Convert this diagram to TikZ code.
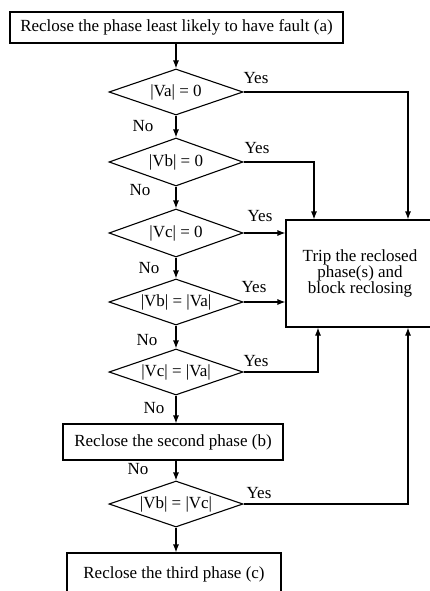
\documentclass[tikz,border=0pt]{standalone}
\usepackage{fontspec}
\setmainfont{Liberation Serif}
\usetikzlibrary{shapes.geometric,arrows.meta}
\begin{document}
\begin{tikzpicture}[x=1pt,y=-1pt,
  line width=1.1pt,
  font=\fontsize{17}{16}\selectfont,
  box/.style={draw, rectangle, inner sep=0pt, align=center},
  dia/.style={draw, diamond, shape aspect=3, inner sep=0pt, minimum width=134pt, minimum height=46pt},
  lbl/.style={inner sep=0pt},
  arr/.style={-{Latex[length=8pt,width=6pt]}}]
\useasboundingbox (0,0) rectangle (430,591);
\clip (0,0) rectangle (430,591);

\node[box, minimum width=333pt, minimum height=31pt] (top) at (176.5,27.5) {Reclose the phase least likely to have fault (a)};
\node[dia] (d1) at (176,92) {|Va| = 0};
\node[dia, minimum height=48pt] (d2) at (176,162) {|Vb| = 0};
\node[dia, minimum height=48pt] (d3) at (176,233) {|Vc| = 0};
\node[dia] (d4) at (176,302) {|Vb| = |Va|};
\node[dia] (d5) at (176,372) {|Vc| = |Va|};
\node[box, minimum width=220pt, minimum height=36pt] (box2) at (173,442) {Reclose the second phase (b)};
\node[dia] (d6) at (176,504) {|Vb| = |Vc|};
\node[box, minimum width=214pt, minimum height=42pt] (box3) at (174,574) {Reclose the third phase (c)};
\node[box, minimum width=148pt, minimum height=107pt] (trip) at (360,273.5) {Trip the reclosed\\phase(s) and\\block reclosing};

\coordinate (ra) at (408,0);
\coordinate (ma) at (314,0);
\coordinate (mb) at (318,0);

\draw[arr] (top.south -| d1.north) -- (d1.north);
\draw[arr] (d1.south) -- (d2.north);
\draw[arr] (d2.south) -- (d3.north);
\draw[arr] (d3.south) -- (d4.north);
\draw[arr] (d4.south) -- (d5.north);
\draw[arr] (d5.south) -- (d5.south |- box2.north);
\draw[arr] (box2.south -| d6.north) -- (d6.north);
\draw[arr] (d6.south) -- (d6.south |- box3.north);

\draw[arr] (d1.east) -| (ra |- trip.north);
\draw[arr] (d2.east) -| (ma |- trip.north);
\draw[arr] (d3.east) -- (d3.east -| trip.west);
\draw[arr] (d4.east) -- (d4.east -| trip.west);
\draw[arr] (d5.east) -| (mb |- trip.south);
\draw[arr] (d6.east) -| (ra |- trip.south);

\node[lbl] (y1) at (256,78) {Yes};
\node[lbl] (n1) at (143,126) {No};
\node[lbl] (y2) at (257,148) {Yes};
\node[lbl] (n2) at (140,190) {No};
\node[lbl] (y3) at (260,216) {Yes};
\node[lbl] (n3) at (149,268) {No};
\node[lbl] (y4) at (254,287) {Yes};
\node[lbl] (n4) at (147,340) {No};
\node[lbl] (y5) at (256,361) {Yes};
\node[lbl] (n5) at (154,408) {No};
\node[lbl] (n6) at (138,469) {No};
\node[lbl] (y6) at (259,493) {Yes};
\end{tikzpicture}
\end{document}
